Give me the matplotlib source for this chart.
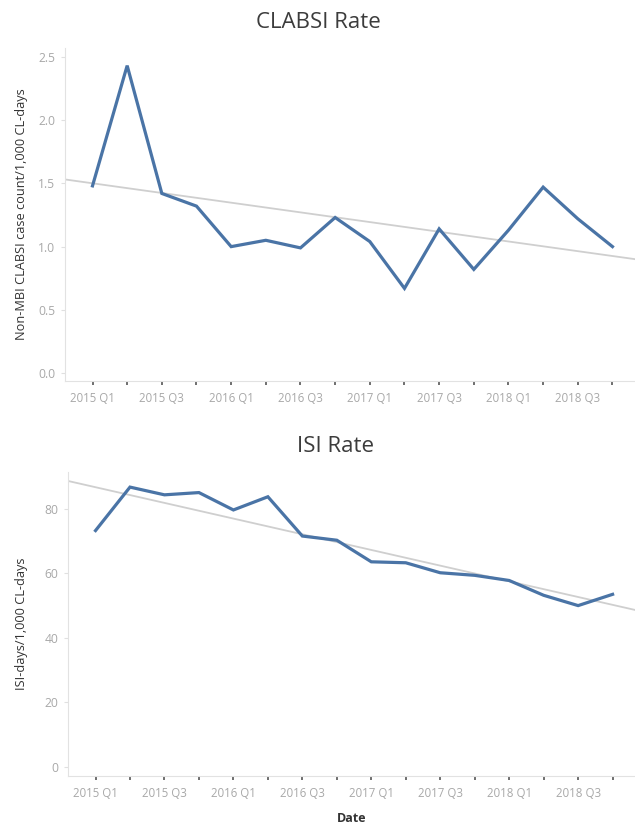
import numpy as np
import matplotlib.pyplot as plt

plt.rcParams['font.family'] = ['Open Sans', 'DejaVu Sans']

# quarterly data, 2015 Q1 .. 2018 Q4
quarters = ["2015 Q1", "2015 Q2", "2015 Q3", "2015 Q4",
            "2016 Q1", "2016 Q2", "2016 Q3", "2016 Q4",
            "2017 Q1", "2017 Q2", "2017 Q3", "2017 Q4",
            "2018 Q1", "2018 Q2", "2018 Q3", "2018 Q4"]
clabsi_rate = [1.48, 2.43, 1.42, 1.32, 1.00, 1.05, 0.99, 1.23,
               1.04, 0.67, 1.14, 0.82, 1.13, 1.47, 1.22, 1.00]
isi_rate = [73.3, 86.8, 84.4, 85.1, 79.7, 83.8, 71.6, 70.3,
            63.6, 63.3, 60.2, 59.4, 57.8, 53.2, 50.0, 53.5]

line_col = '#4a74a6'
trend_col = '#cfcfcf'
tick_col = '#a8a8a8'

fig = plt.figure(figsize=(6.35, 8.26), dpi=100)
ax1 = fig.add_axes([0.102, 0.539, 0.898, 0.403])
ax2 = fig.add_axes([0.107, 0.061, 0.893, 0.368])

x = np.arange(len(quarters))


def style(ax, yvals, ylabel, ylim, yticks, yfmt):
    xx = np.array([-2, 18])
    slope, icpt = np.polyfit(x, yvals, 1)
    ax.plot(xx, slope * xx + icpt, color=trend_col, lw=1.3, zorder=1)
    ax.plot(x, yvals, color=line_col, lw=2.3, zorder=2, solid_joinstyle='miter')
    ax.set_xlim(-0.8, 15.65)
    ax.set_ylim(*ylim)
    ax.set_yticks(yticks)
    ax.set_yticklabels([yfmt.format(v) for v in yticks])
    ax.set_xticks(x)
    ax.set_xticklabels([q if i % 2 == 0 else '' for i, q in enumerate(quarters)])
    for s in ['top', 'right']:
        ax.spines[s].set_visible(False)
    ax.spines['left'].set_color('#e2e2e2')
    ax.spines['bottom'].set_color('#e2e2e2')
    ax.tick_params(axis='x', colors='#555555', length=3, width=1.2, labelsize=8.3, pad=5)
    ax.tick_params(axis='y', colors='#e0e0e0', length=3, labelsize=8.7, pad=4)
    for lbl in ax.get_xticklabels() + ax.get_yticklabels():
        lbl.set_color(tick_col)
    ax.set_ylabel(ylabel, fontsize=9.2, color='#333333')


style(ax1, clabsi_rate, 'Non-MBI CLABSI case count/1,000 CL-days',
      (-0.06, 2.57), [0.0, 0.5, 1.0, 1.5, 2.0, 2.5], '{:.1f}')
style(ax2, isi_rate, 'ISI-days/1,000 CL-days',
      (-2.8, 91.6), [0, 20, 40, 60, 80], '{:.0f}')

# titles are centred on the picture, not on the axes
fig.text(0.502, 0.973, 'CLABSI Rate', fontsize=16, color='#3c3c3c',
         ha='center', va='center')
fig.text(0.528, 0.459, 'ISI Rate', fontsize=16, color='#3c3c3c',
         ha='center', va='center')

ax2.set_xlabel('Date', fontsize=9, color='#333333', fontweight='bold', labelpad=9)
ax1.yaxis.set_label_coords(-0.064, 0.5)
ax2.yaxis.set_label_coords(-0.07, 0.5)

fig.savefig('out.png', dpi=100)
